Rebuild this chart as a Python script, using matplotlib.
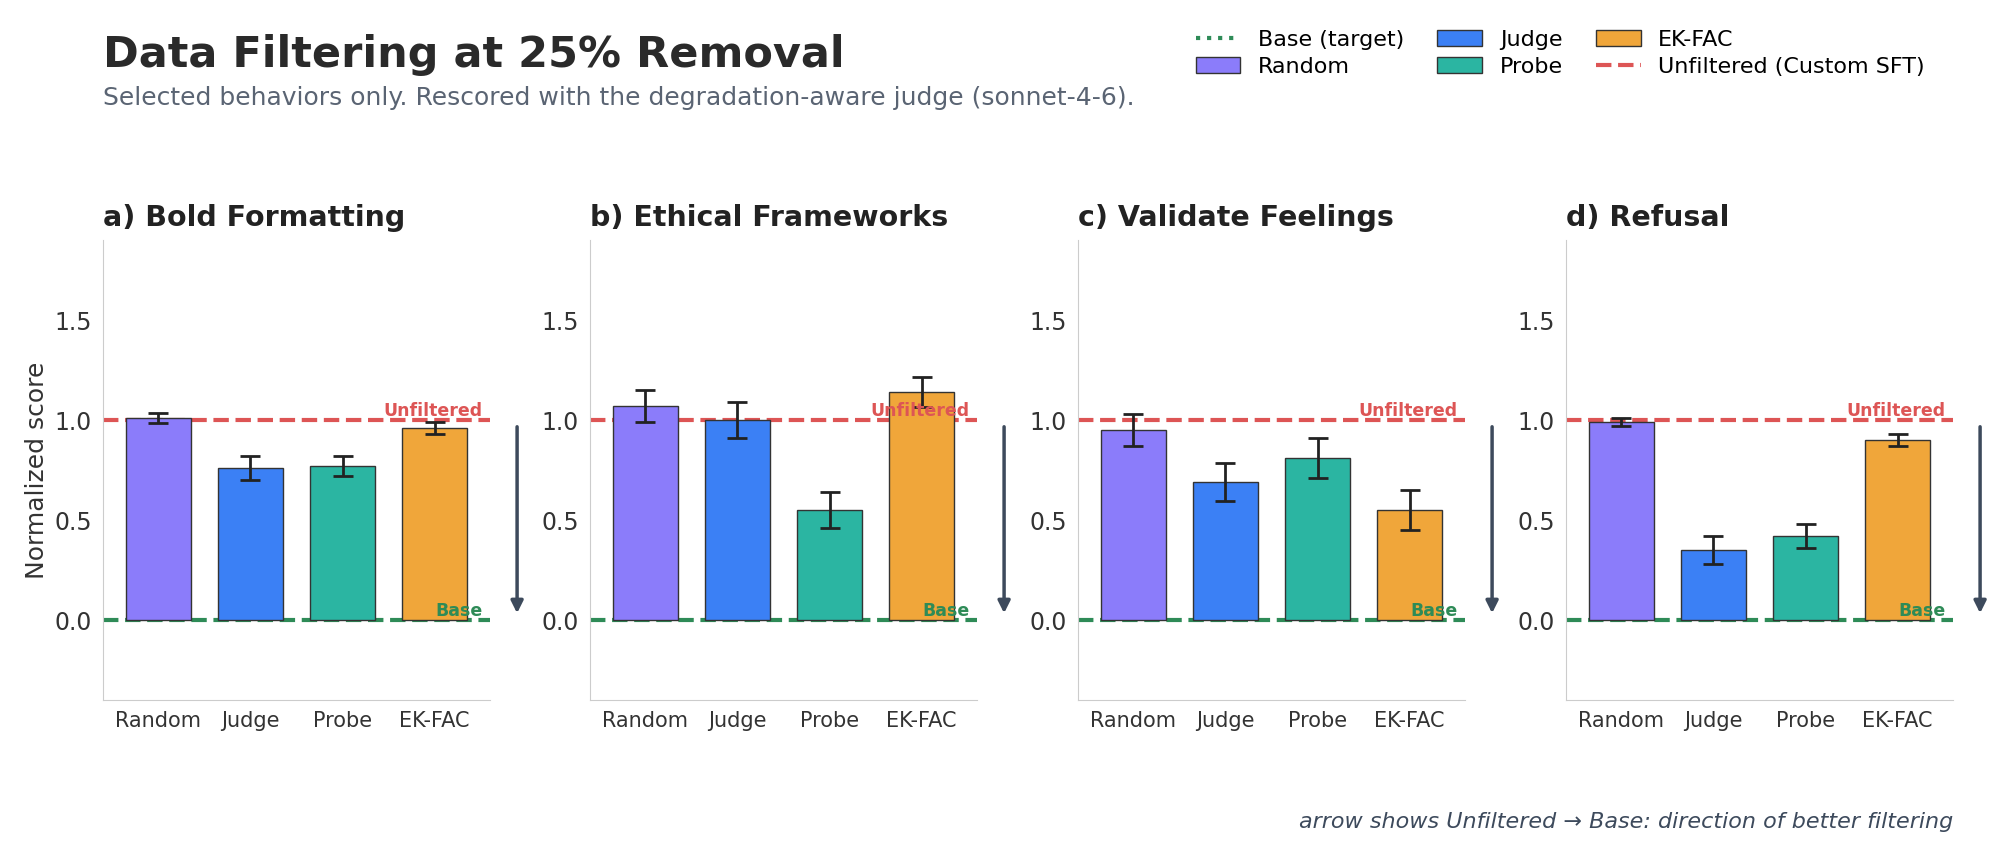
import numpy as np
import matplotlib
matplotlib.use("Agg")
import matplotlib.pyplot as plt
from matplotlib.lines import Line2D
from matplotlib.patches import Patch

methods = ["Random", "Judge", "Probe", "EK-FAC"]
colors = ["#8b7cfa", "#3b80f5", "#2bb5a2", "#f0a63a"]
panels = ["a) Bold Formatting", "b) Ethical Frameworks", "c) Validate Feelings", "d) Refusal"]
scores = [
    [1.01, 0.76, 0.77, 0.96],
    [1.07, 1.00, 0.55, 1.14],
    [0.95, 0.69, 0.81, 0.55],
    [0.99, 0.35, 0.42, 0.90],
]
errors = [
    [0.025, 0.06, 0.05, 0.03],
    [0.08, 0.09, 0.09, 0.075],
    [0.08, 0.095, 0.10, 0.10],
    [0.02, 0.07, 0.06, 0.03],
]

RED = "#dd5555"
GREEN = "#2e8b57"
ARROW = "#3d4a5c"

fig = plt.figure(figsize=(19.97, 8.51), dpi=100)
lefts = [103, 590, 1078, 1566]
for i, (title, vals, errs) in enumerate(zip(panels, scores, errors)):
    ax = fig.add_axes([lefts[i] / 1997, 1 - 700 / 851, 387 / 1997, 460 / 851])
    x = np.arange(len(methods))
    ax.axhline(0, color=GREEN, lw=3, ls="--", zorder=1)
    ax.axhline(1, color=RED, lw=3, ls="--", zorder=1)
    ax.bar(x, vals, width=0.7, color=colors, edgecolor="#333333", lw=1, zorder=2)
    ax.errorbar(x, vals, yerr=errs, fmt="none", ecolor="#222222", elinewidth=2,
                capsize=7, capthick=2, zorder=3)
    ax.set_xlim(-0.6, 3.6)
    ax.set_ylim(-0.4, 1.9)
    ax.set_yticks([0, 0.5, 1.0, 1.5])
    ax.set_yticklabels(["0.0", "0.5", "1.0", "1.5"], fontsize=17, color="#333333")
    ax.set_xticks(x)
    ax.set_xticklabels(methods, fontsize=15, color="#333333")
    ax.tick_params(length=0, pad=8)
    for s in ["top", "right"]:
        ax.spines[s].set_visible(False)
    for s in ["left", "bottom"]:
        ax.spines[s].set_color("#cccccc")
    ax.set_title(title, loc="left", fontsize=20.5, fontweight="bold", color="#222222", pad=10)
    ax.text(3.52, 1.0, "Unfiltered", color=RED, fontsize=12.5, fontweight="bold",
            ha="right", va="bottom")
    ax.text(3.52, 0.0, "Base", color=GREEN, fontsize=12.5, fontweight="bold",
            ha="right", va="bottom")
    ax.annotate("", xy=(1.07, 0.02), xytext=(1.07, 0.98), xycoords=("axes fraction", "data"),
                textcoords=("axes fraction", "data"),
                arrowprops=dict(arrowstyle="-|>", color=ARROW, lw=2.5, mutation_scale=18))
    if i == 0:
        ax.set_ylabel("Normalized score", fontsize=18, color="#333333")

fig.text(103 / 1997, 1 - 55 / 851, "Data Filtering at 25% Removal", fontsize=31,
         fontweight="bold", color="#2a2a2a", va="center")
fig.text(103 / 1997, 1 - 98 / 851,
         "Selected behaviors only. Rescored with the degradation-aware judge (sonnet-4-6).",
         fontsize=18, color="#5a6473", va="center")
fig.text(1953 / 1997, 1 - 822 / 851,
         "arrow shows Unfiltered \u2192 Base: direction of better filtering",
         fontsize=16, style="italic", color="#3d4a5c", ha="right", va="center")

handles = [
    Line2D([0], [0], color=GREEN, lw=3, ls=":"),
    Patch(facecolor=colors[0], edgecolor="#333333"),
    Patch(facecolor=colors[1], edgecolor="#333333"),
    Patch(facecolor=colors[2], edgecolor="#333333"),
    Patch(facecolor=colors[3], edgecolor="#333333"),
    Line2D([0], [0], color=RED, lw=3, ls="--"),
]
labels = ["Base (target)", "Random", "Judge", "Probe", "EK-FAC", "Unfiltered (Custom SFT)"]
fig.legend(handles, labels, ncol=3, frameon=False, fontsize=16,
           loc="upper right", bbox_to_anchor=(1945 / 1997, 1 - 10 / 851),
           columnspacing=1.5, handlelength=2.0, labelspacing=0.3)

fig.savefig("out.png", dpi=100, facecolor="white")
